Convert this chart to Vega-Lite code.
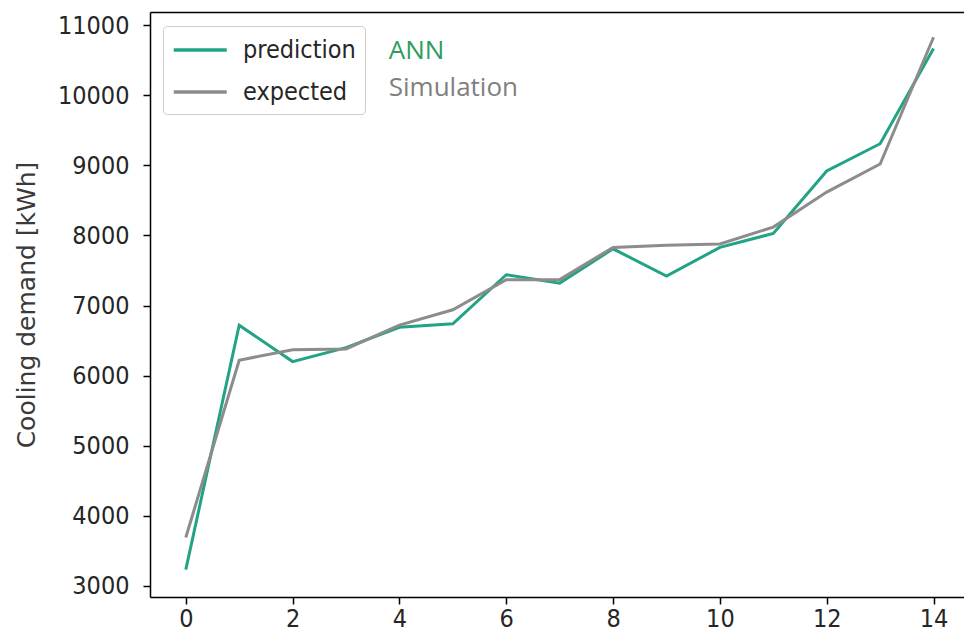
{
  "$schema": "https://vega.github.io/schema/vega-lite/v6.json",
  "width": 814,
  "height": 585,
  "autosize": {"type": "none"},
  "padding": {"left": 150, "top": 12, "right": 0, "bottom": 41},
  "background": "white",
  "config": {
    "view": {"stroke": null},
    "axis": {
      "grid": false,
      "domainColor": "#000000",
      "domainWidth": 1.5,
      "tickColor": "#000000",
      "tickWidth": 1.5,
      "tickSize": 7,
      "labelFont": "DejaVu Sans Condensed",
      "labelFontSize": 25,
      "labelColor": "#262626",
      "titleFont": "DejaVu Sans",
      "titleFontSize": 25,
      "titleFontWeight": "normal",
      "titleColor": "#3a3a3a"
    }
  },
  "datasets": {
    "lines": [
      {"x": 0, "value": 3230, "series": "prediction"},
      {"x": 1, "value": 6720, "series": "prediction"},
      {"x": 2, "value": 6200, "series": "prediction"},
      {"x": 3, "value": 6400, "series": "prediction"},
      {"x": 4, "value": 6690, "series": "prediction"},
      {"x": 5, "value": 6740, "series": "prediction"},
      {"x": 6, "value": 7440, "series": "prediction"},
      {"x": 7, "value": 7320, "series": "prediction"},
      {"x": 8, "value": 7810, "series": "prediction"},
      {"x": 9, "value": 7420, "series": "prediction"},
      {"x": 10, "value": 7830, "series": "prediction"},
      {"x": 11, "value": 8030, "series": "prediction"},
      {"x": 12, "value": 8920, "series": "prediction"},
      {"x": 13, "value": 9310, "series": "prediction"},
      {"x": 14, "value": 10670, "series": "prediction"},
      {"x": 0, "value": 3690, "series": "expected"},
      {"x": 1, "value": 6220, "series": "expected"},
      {"x": 2, "value": 6370, "series": "expected"},
      {"x": 3, "value": 6380, "series": "expected"},
      {"x": 4, "value": 6720, "series": "expected"},
      {"x": 5, "value": 6940, "series": "expected"},
      {"x": 6, "value": 7370, "series": "expected"},
      {"x": 7, "value": 7370, "series": "expected"},
      {"x": 8, "value": 7830, "series": "expected"},
      {"x": 9, "value": 7860, "series": "expected"},
      {"x": 10, "value": 7880, "series": "expected"},
      {"x": 11, "value": 8120, "series": "expected"},
      {"x": 12, "value": 8620, "series": "expected"},
      {"x": 13, "value": 9020, "series": "expected"},
      {"x": 14, "value": 10830, "series": "expected"}
    ],
    "one": [{"label": "annotation"}]
  },
  "layer": [
    {
      "data": {"name": "lines"},
      "mark": {"type": "line", "strokeWidth": 3},
      "encoding": {
        "x": {
          "field": "x", "type": "quantitative",
          "scale": {"domain": [-0.67, 14.57], "nice": false, "zero": false},
          "axis": {"orient": "bottom", "values": [0, 2, 4, 6, 8, 10, 12, 14], "title": null, "labelPadding": 2, "labelFlush": false}
        },
        "y": {
          "field": "value", "type": "quantitative",
          "scale": {"domain": [2840, 11190], "nice": false, "zero": false},
          "axis": {"values": [3000, 4000, 5000, 6000, 7000, 8000, 9000, 10000, 11000], "format": "d", "title": "Cooling demand [kWh]", "labelPadding": 14, "titlePadding": 18, "labelFlush": false}
        },
        "color": {
          "field": "series", "type": "nominal",
          "scale": {"domain": ["prediction", "expected"], "range": ["#22a385", "#8c8c8c"]},
          "legend": {
            "title": null,
            "orient": "none",
            "legendX": 13,
            "legendY": 14,
            "symbolType": "M-1,0L3,0",
            "symbolSize": 702,
            "symbolStrokeWidth": 3.5,
            "labelFont": "DejaVu Sans Condensed",
            "labelFontSize": 25,
            "labelColor": "#262626",
            "labelOffset": 41,
            "rowPadding": 14,
            "padding": 9,
            "strokeColor": "#cccccc",
            "cornerRadius": 4,
            "fillColor": "white"
          }
        },
        "order": {"field": "x"}
      }
    },
    {
      "data": {"name": "one"},
      "mark": {"type": "text", "font": "Open Sans", "fontSize": 26, "color": "#2e9b62", "align": "left", "baseline": "middle", "text": "ANN"},
      "encoding": {
        "x": {"datum": 3.8, "type": "quantitative", "axis": {"orient": "top", "labels": false, "ticks": false, "title": null, "domainWidth": 1.5}},
        "y": {"datum": 10630, "type": "quantitative"}
      }
    },
    {
      "data": {"name": "one"},
      "mark": {"type": "text", "font": "Open Sans", "fontSize": 26, "color": "#7f7f7f", "align": "left", "baseline": "middle", "text": "Simulation"},
      "encoding": {
        "x": {"datum": 3.8, "type": "quantitative", "axis": null},
        "y": {"datum": 10100, "type": "quantitative"}
      }
    }
  ],
  "resolve": {"axis": {"x": "independent"}}
}
